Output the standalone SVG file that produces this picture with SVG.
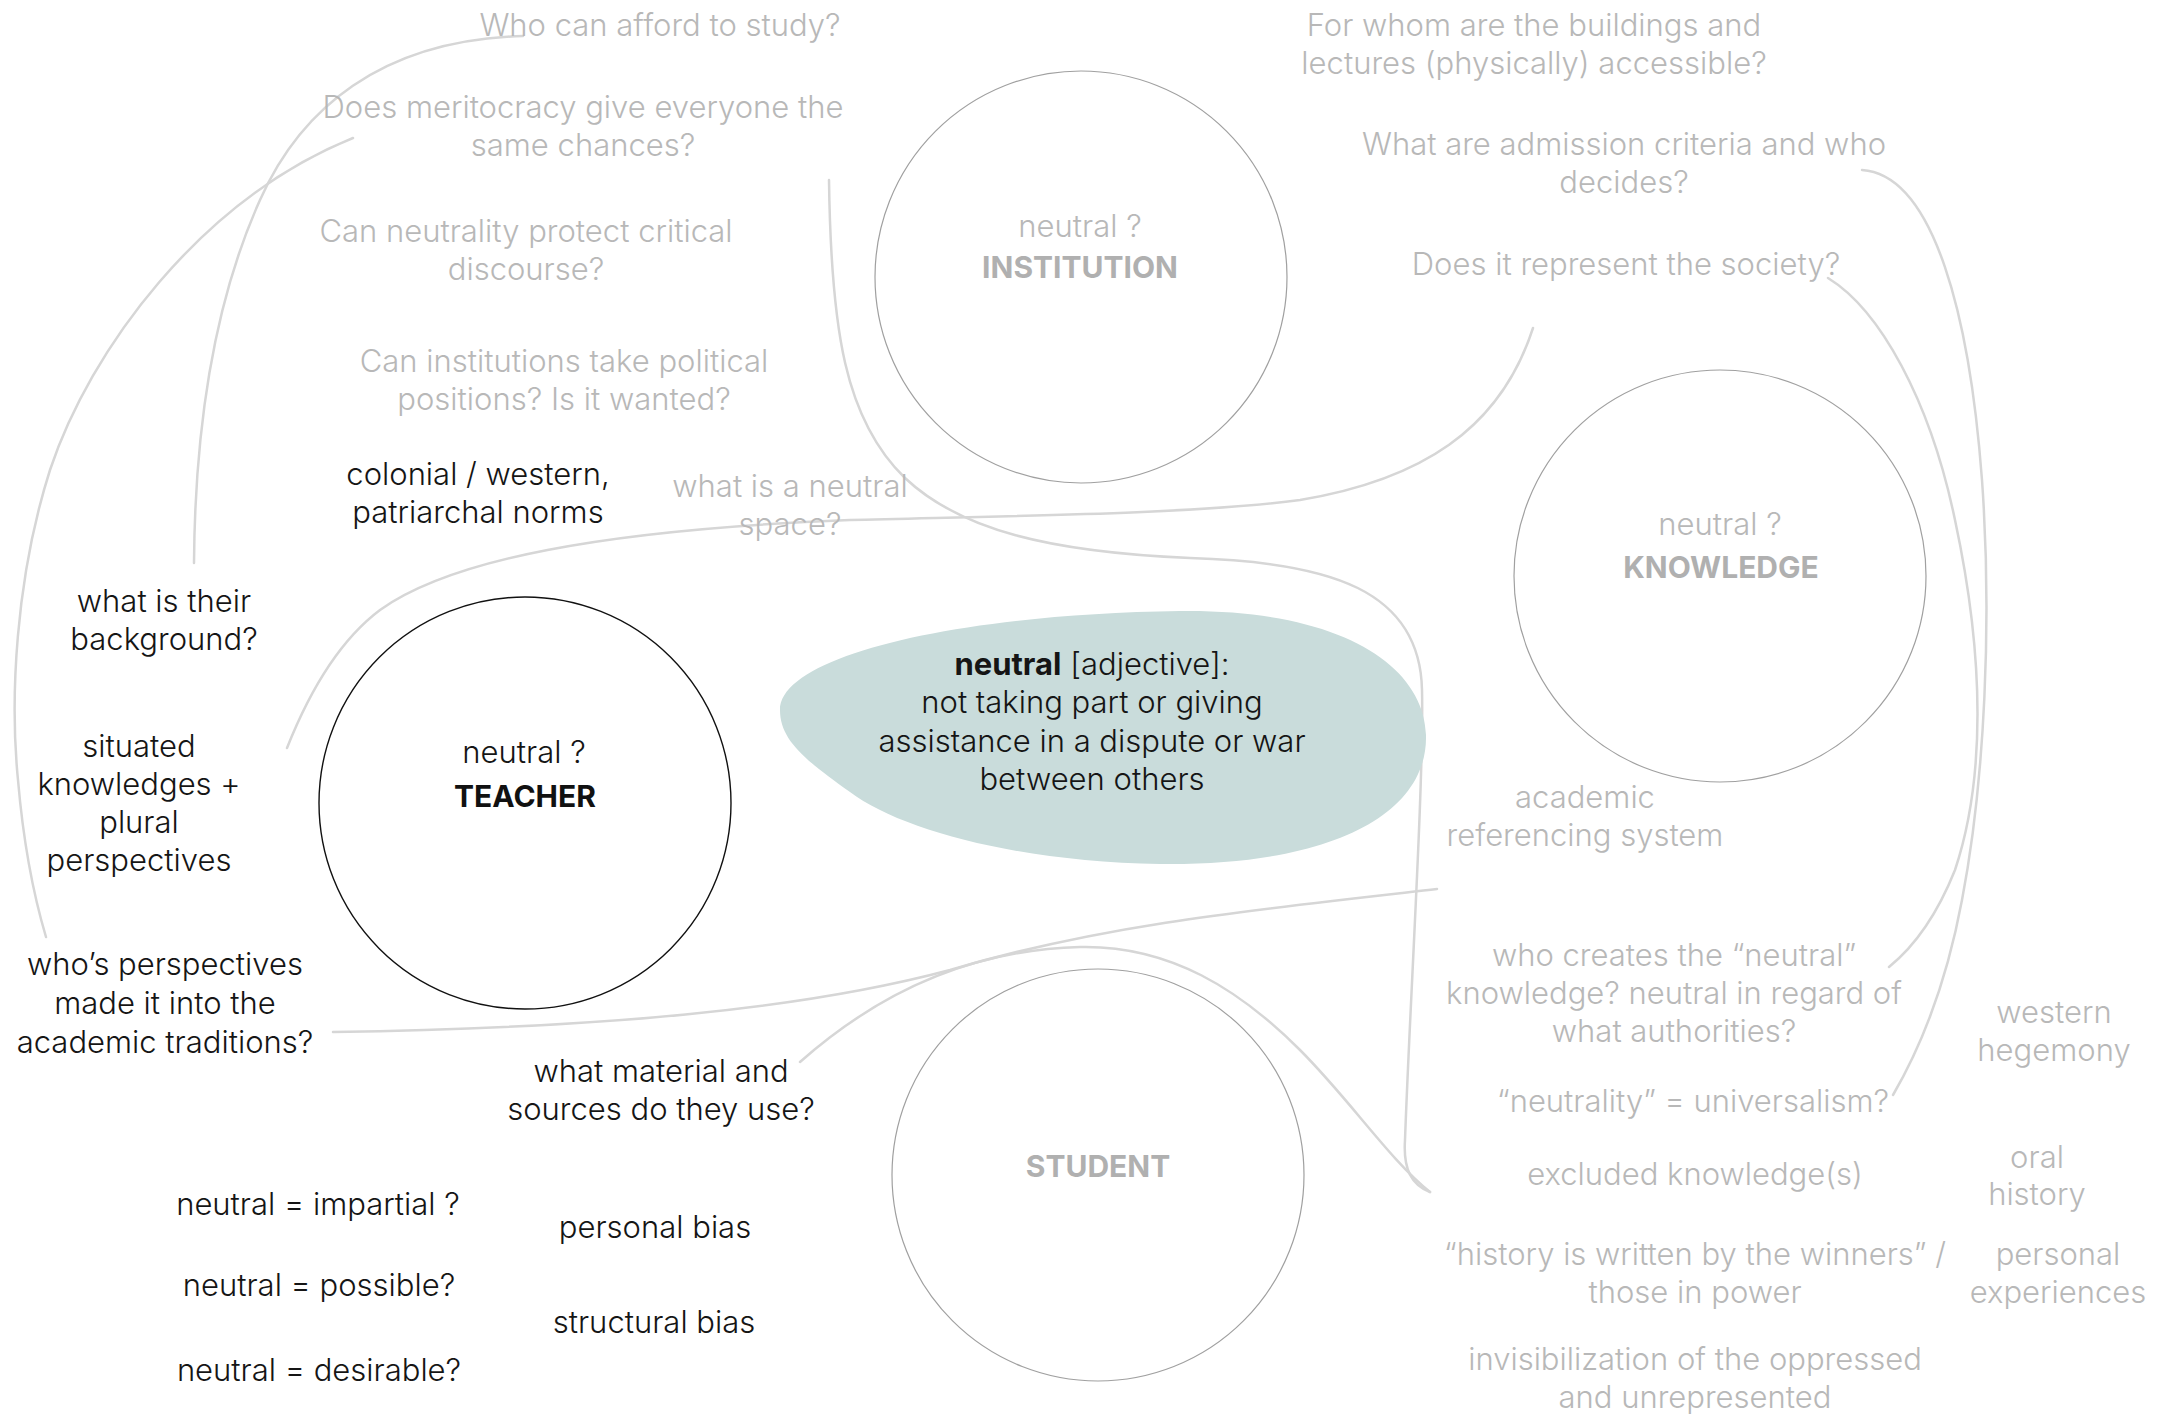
<svg xmlns="http://www.w3.org/2000/svg" width="2165" height="1415" viewBox="0 0 2165 1415">
<style>
text { font-family: Inter, "Liberation Sans", sans-serif; font-weight: 300; font-size: 31px; text-anchor: middle; }
.q { fill: #b8b8b8; }
.b { fill: #151515; }
.lblg { font-weight: 700; font-size: 30px; fill: #b0b0b0; }
.lblb { font-weight: 700; font-size: 30px; fill: #111111; }
.conn { fill: none; stroke: #d6d6d6; stroke-width: 2.5; stroke-linecap: round; }
.node { fill: none; stroke: #a0a0a0; stroke-width: 1.2; }
.nodeb { fill: none; stroke: #111111; stroke-width: 1.4; }
.blob { fill: #c9dcdb; }
</style>
<rect width="2165" height="1415" fill="#ffffff"/>

<g id="connectors">
  <path class="conn" d="M 523 36 C 380 40, 300 110, 260 200 C 215 300, 195 420, 194 563"/>
  <path class="conn" d="M 353 138 C 200 200, 90 350, 50 470 C 15 580, 10 700, 18 780 C 24 850, 35 900, 46 937"/>
  <path class="conn" d="M 829 180 C 831 330, 845 420, 905 478 C 960 530, 1050 552, 1190 558 C 1330 562, 1420 590, 1422 690 C 1424 780, 1410 1000, 1405 1140 C 1403 1170, 1412 1185, 1430 1192"/>
  <path class="conn" d="M 1533 328 C 1500 430, 1420 480, 1300 500 C 1200 514, 1000 516, 850 520 C 600 530, 450 560, 380 610 C 340 640, 310 690, 287 748"/>
  <path class="conn" d="M 333 1032 C 600 1028, 800 1010, 950 970 C 1100 925, 1250 910, 1437 889"/>
  <path class="conn" d="M 800 1062 C 870 1000, 960 950, 1080 947 C 1170 945, 1240 990, 1300 1050 C 1350 1100, 1390 1160, 1430 1192"/>
  <path class="conn" d="M 1862 170 C 1935 175, 1970 320, 1982 480 C 1992 620, 1985 780, 1962 900 C 1948 975, 1925 1040, 1893 1095"/>
  <path class="conn" d="M 1828 278 C 1880 310, 1930 400, 1955 520 C 1985 660, 1985 780, 1955 870 C 1935 920, 1910 950, 1889 967"/>
</g>

<g id="definition">
  <path class="blob" d="M 780 710 C 780 655, 960 614, 1180 611 C 1340 609, 1424 665, 1426 735 C 1428 815, 1330 866, 1160 864 C 1020 862, 900 830, 850 792 C 805 760, 780 740, 780 710 Z"/>
  <text class="b"><tspan x="1092" y="675"><tspan font-weight="700">neutral</tspan> [adjective]:</tspan><tspan x="1092" y="713">not taking part or giving</tspan><tspan x="1092" y="752">assistance in a dispute or war</tspan><tspan x="1092" y="790">between others</tspan></text>
</g>

<g id="node-institution">
  <circle class="node" cx="1081" cy="277" r="206"/>
  <text class="q" x="1080" y="237">neutral ?</text>
  <text class="lblg" x="1080" y="278">INSTITUTION</text>
</g>
<g id="node-knowledge">
  <circle class="node" cx="1720" cy="576" r="206"/>
  <text class="q" x="1720" y="535">neutral ?</text>
  <text class="lblg" x="1721" y="578">KNOWLEDGE</text>
</g>
<g id="node-teacher">
  <circle class="nodeb" cx="525" cy="803" r="206"/>
  <text class="b" x="524" y="763">neutral ?</text>
  <text class="lblb" x="525" y="807">TEACHER</text>
</g>
<g id="node-student">
  <circle class="node" cx="1098" cy="1175" r="206"/>
  <text class="lblg" x="1098" y="1177">STUDENT</text>
</g>

<g id="q-afford"><text class="q" x="660" y="36">Who can afford to study?</text></g>
<g id="q-meritocracy"><text class="q"><tspan x="583" y="118">Does meritocracy give everyone the</tspan><tspan x="583" y="156">same chances?</tspan></text></g>
<g id="q-critical"><text class="q"><tspan x="526" y="242">Can neutrality protect critical</tspan><tspan x="526" y="280">discourse?</tspan></text></g>
<g id="q-political"><text class="q"><tspan x="564" y="372">Can institutions take political</tspan><tspan x="564" y="410">positions? Is it wanted?</tspan></text></g>
<g id="q-space"><text class="q"><tspan x="790" y="497">what is a neutral</tspan><tspan x="790" y="535">space?</tspan></text></g>
<g id="q-access"><text class="q"><tspan x="1534" y="36">For whom are the buildings and</tspan><tspan x="1534" y="74">lectures (physically) accessible?</tspan></text></g>
<g id="q-admission"><text class="q"><tspan x="1624" y="155">What are admission criteria and who</tspan><tspan x="1624" y="193">decides?</tspan></text></g>
<g id="q-society"><text class="q" x="1626" y="275">Does it represent the society?</text></g>
<g id="q-referencing"><text class="q"><tspan x="1585" y="808">academic</tspan><tspan x="1585" y="846">referencing system</tspan></text></g>
<g id="q-creates"><text class="q"><tspan x="1674" y="966">who creates the “neutral”</tspan><tspan x="1674" y="1004">knowledge? neutral in regard of</tspan><tspan x="1674" y="1042">what authorities?</tspan></text></g>
<g id="q-universalism"><text class="q" x="1693" y="1112">“neutrality” = universalism?</text></g>
<g id="q-excluded"><text class="q" x="1695" y="1185">excluded knowledge(s)</text></g>
<g id="q-winners"><text class="q"><tspan x="1695" y="1265">“history is written by the winners” /</tspan><tspan x="1695" y="1303">those in power</tspan></text></g>
<g id="q-invisible"><text class="q"><tspan x="1695" y="1370">invisibilization of the oppressed</tspan><tspan x="1695" y="1408">and unrepresented</tspan></text></g>
<g id="q-western"><text class="q"><tspan x="2054" y="1023">western</tspan><tspan x="2054" y="1061">hegemony</tspan></text></g>
<g id="q-oral"><text class="q"><tspan x="2037" y="1168">oral</tspan><tspan x="2037" y="1205">history</tspan></text></g>
<g id="q-experiences"><text class="q"><tspan x="2058" y="1265">personal</tspan><tspan x="2058" y="1303">experiences</tspan></text></g>

<g id="b-colonial"><text class="b"><tspan x="478" y="485">colonial / western,</tspan><tspan x="478" y="523">patriarchal norms</tspan></text></g>
<g id="b-background"><text class="b"><tspan x="164" y="612">what is their</tspan><tspan x="164" y="650">background?</tspan></text></g>
<g id="b-situated"><text class="b"><tspan x="139" y="757">situated</tspan><tspan x="139" y="795">knowledges +</tspan><tspan x="139" y="833">plural</tspan><tspan x="139" y="871">perspectives</tspan></text></g>
<g id="b-perspectives"><text class="b"><tspan x="165" y="975">who’s perspectives</tspan><tspan x="165" y="1014">made it into the</tspan><tspan x="165" y="1053">academic traditions?</tspan></text></g>
<g id="b-material"><text class="b"><tspan x="661" y="1082">what material and</tspan><tspan x="661" y="1120">sources do they use?</tspan></text></g>
<g id="b-impartial"><text class="b" x="318" y="1215">neutral = impartial ?</text></g>
<g id="b-possible"><text class="b" x="319" y="1296">neutral = possible?</text></g>
<g id="b-desirable"><text class="b" x="319" y="1381">neutral = desirable?</text></g>
<g id="b-personal-bias"><text class="b" x="655" y="1238">personal bias</text></g>
<g id="b-structural-bias"><text class="b" x="654" y="1333">structural bias</text></g>
</svg>
